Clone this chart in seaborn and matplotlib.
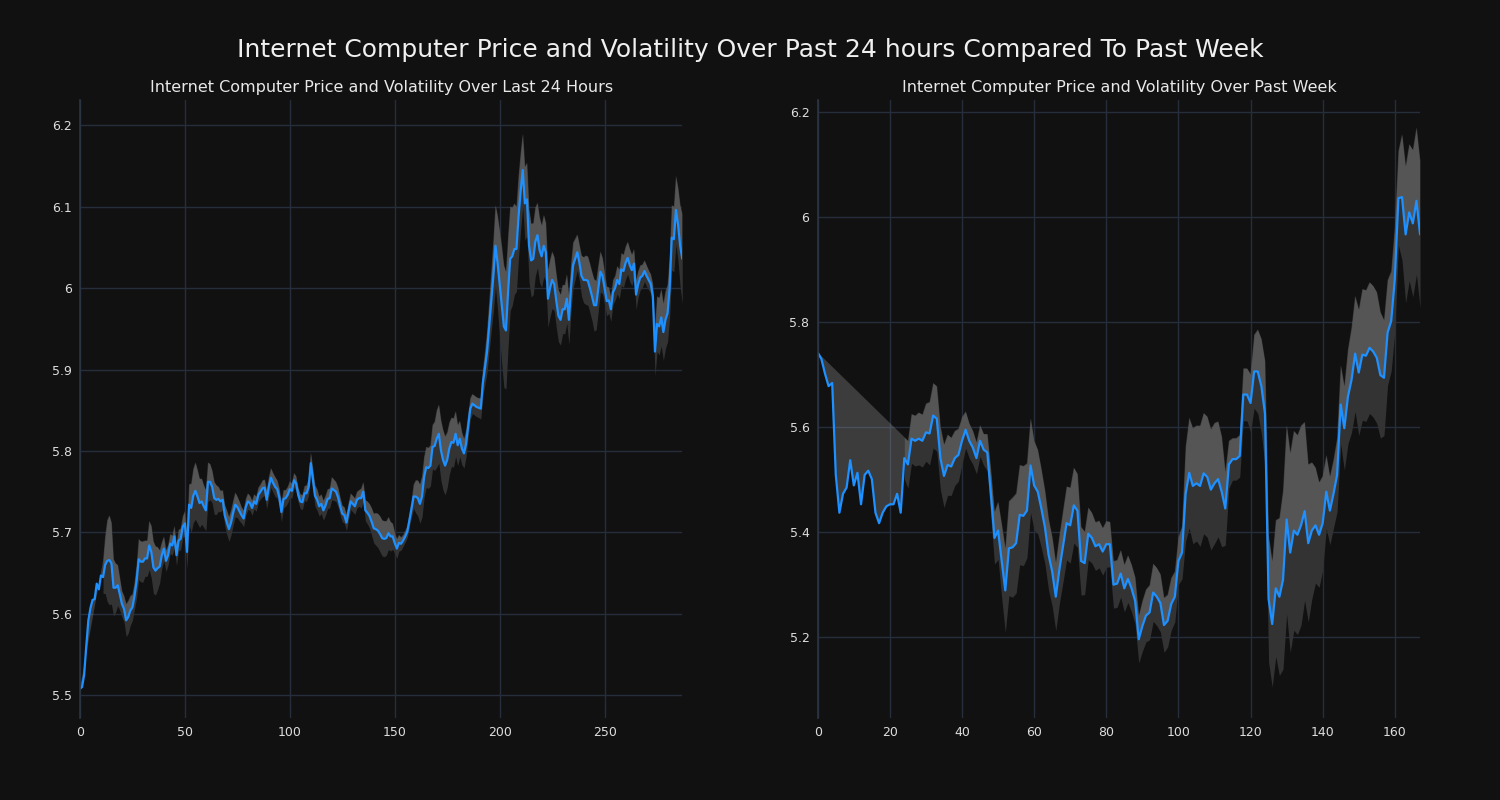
import numpy as np
import matplotlib
matplotlib.use('Agg')
import matplotlib.pyplot as plt
from matplotlib.ticker import FuncFormatter
import seaborn as sns

# price over the last 24 hours (5 minute steps) and its rolling volatility
day_price = [
    5.508, 5.51, 5.525, 5.56, 5.592, 5.607, 5.617, 5.618, 5.637, 5.63,
    5.647, 5.645, 5.66, 5.665, 5.666, 5.662, 5.632, 5.632, 5.635, 5.624,
    5.612, 5.606, 5.592, 5.596, 5.604, 5.608, 5.622, 5.64, 5.667, 5.664,
    5.664, 5.668, 5.668, 5.684, 5.676, 5.657, 5.653, 5.656, 5.658, 5.672,
    5.68, 5.665, 5.672, 5.686, 5.684, 5.695, 5.672, 5.69, 5.692, 5.707,
    5.711, 5.676, 5.734, 5.73, 5.745, 5.751, 5.744, 5.736, 5.738, 5.732,
    5.727, 5.762, 5.762, 5.756, 5.742, 5.74, 5.741, 5.738, 5.74, 5.721,
    5.712, 5.704, 5.712, 5.724, 5.734, 5.731, 5.726, 5.721, 5.717, 5.731,
    5.738, 5.736, 5.73, 5.738, 5.735, 5.746, 5.75, 5.754, 5.755, 5.74,
    5.756, 5.767, 5.761, 5.756, 5.753, 5.743, 5.725, 5.741, 5.742, 5.746,
    5.753, 5.751, 5.764, 5.76, 5.746, 5.738, 5.737, 5.748, 5.748, 5.756,
    5.785, 5.765, 5.745, 5.74, 5.732, 5.735, 5.727, 5.733, 5.741, 5.742,
    5.754, 5.752, 5.75, 5.743, 5.732, 5.723, 5.721, 5.712, 5.726, 5.738,
    5.735, 5.732, 5.74, 5.742, 5.742, 5.75, 5.727, 5.724, 5.72, 5.713,
    5.705, 5.704, 5.702, 5.698, 5.693, 5.692, 5.693, 5.699, 5.695, 5.695,
    5.687, 5.68, 5.687, 5.686, 5.69, 5.695, 5.701, 5.715, 5.729, 5.744,
    5.744, 5.742, 5.735, 5.744, 5.768, 5.78, 5.779, 5.782, 5.805, 5.806,
    5.815, 5.821, 5.801, 5.789, 5.782, 5.789, 5.803, 5.811, 5.81, 5.821,
    5.807, 5.815, 5.803, 5.797, 5.809, 5.831, 5.852, 5.858, 5.856, 5.854,
    5.853, 5.852, 5.884, 5.902, 5.922, 5.953, 5.984, 6.015, 6.052, 6.031,
    6.005, 5.979, 5.953, 5.948, 5.995, 6.036, 6.039, 6.048, 6.048, 6.088,
    6.119, 6.145, 6.104, 6.109, 6.052, 6.034, 6.036, 6.057, 6.065, 6.047,
    6.039, 6.052, 6.044, 5.987, 6.0, 6.01, 6.005, 5.984, 5.966, 5.961,
    5.974, 5.974, 5.987, 5.961, 6.0, 6.028, 6.036, 6.044, 6.031, 6.015,
    6.01, 6.01, 6.009, 6.0, 5.99, 5.979, 5.979, 6.0, 6.02, 6.015,
    6.0, 5.984, 5.985, 5.974, 5.995, 6.0, 6.01, 6.005, 6.023, 6.021,
    6.031, 6.037, 6.028, 6.022, 6.03, 5.992, 6.005, 6.013, 6.015, 6.021,
    6.015, 6.01, 6.005, 5.99, 5.922, 5.956, 5.953, 5.964, 5.946, 5.961,
    5.969, 6.0, 6.062, 6.06, 6.096, 6.078, 6.052, 6.036,
]
day_vol = [np.nan] * 11 + [
    0.02, 0.035, 0.05, 0.055, 0.05, 0.035, 0.03, 0.025, 0.02,
    0.016, 0.016, 0.02, 0.02, 0.018, 0.016, 0.016, 0.02, 0.025, 0.025,
    0.025, 0.022, 0.022, 0.03, 0.032, 0.032, 0.03, 0.026, 0.02, 0.016,
    0.015, 0.013, 0.012, 0.012, 0.012, 0.013, 0.013, 0.013, 0.013, 0.013,
    0.015, 0.02, 0.025, 0.03, 0.033, 0.035, 0.033, 0.03, 0.028, 0.026,
    0.025, 0.024, 0.022, 0.02, 0.02, 0.018, 0.015, 0.013, 0.012, 0.013,
    0.015, 0.015, 0.015, 0.015, 0.015, 0.013, 0.012, 0.01, 0.01, 0.01,
    0.01, 0.009, 0.009, 0.009, 0.009, 0.009, 0.009, 0.01, 0.01, 0.011,
    0.012, 0.012, 0.012, 0.012, 0.011, 0.011, 0.012, 0.011, 0.01, 0.01,
    0.01, 0.009, 0.009, 0.009, 0.009, 0.009, 0.009, 0.009, 0.01, 0.01,
    0.013, 0.013, 0.013, 0.013, 0.012, 0.012, 0.012, 0.012, 0.012, 0.012,
    0.014, 0.013, 0.012, 0.012, 0.011, 0.01, 0.01, 0.01, 0.01, 0.01,
    0.01, 0.01, 0.01, 0.01, 0.012, 0.012, 0.013, 0.014, 0.015, 0.017,
    0.018, 0.02, 0.021, 0.022, 0.022, 0.022, 0.021, 0.02, 0.018, 0.016,
    0.013, 0.012, 0.01, 0.008, 0.007, 0.007, 0.007, 0.008, 0.01, 0.015,
    0.02, 0.022, 0.024, 0.025, 0.025, 0.025, 0.025, 0.025, 0.027, 0.03,
    0.035, 0.036, 0.037, 0.037, 0.036, 0.034, 0.032, 0.03, 0.03, 0.028,
    0.025, 0.022, 0.02, 0.018, 0.016, 0.014, 0.013, 0.012, 0.012, 0.012,
    0.012, 0.013, 0.016, 0.02, 0.025, 0.03, 0.036, 0.044, 0.05, 0.058,
    0.066, 0.072, 0.075, 0.072, 0.068, 0.064, 0.06, 0.056, 0.052, 0.05,
    0.047, 0.045, 0.045, 0.045, 0.045, 0.045, 0.044, 0.042, 0.04, 0.04,
    0.038, 0.038, 0.036, 0.035, 0.035, 0.035, 0.033, 0.033, 0.032, 0.031,
    0.03, 0.03, 0.03, 0.03, 0.029, 0.028, 0.025, 0.022, 0.022, 0.025,
    0.028, 0.03, 0.03, 0.03, 0.03, 0.032, 0.03, 0.028, 0.025, 0.022,
    0.02, 0.018, 0.016, 0.015, 0.015, 0.015, 0.017, 0.018, 0.02, 0.02,
    0.02, 0.02, 0.02, 0.019, 0.018, 0.018, 0.016, 0.015, 0.014, 0.013,
    0.013, 0.012, 0.012, 0.015, 0.03, 0.034, 0.035, 0.035, 0.035, 0.035,
    0.035, 0.036, 0.04, 0.04, 0.042, 0.045, 0.05, 0.055,
]

# price over the past week (hourly) and its rolling volatility
week_price = [
    5.742, 5.73, 5.702, 5.678, 5.684, 5.509, 5.437, 5.473, 5.485, 5.537,
    5.489, 5.513, 5.453, 5.509, 5.517, 5.501, 5.437, 5.417, 5.437, 5.449,
    5.453, 5.453, 5.473, 5.437, 5.541, 5.529, 5.578, 5.574, 5.578, 5.574,
    5.59, 5.588, 5.622, 5.616, 5.541, 5.507, 5.528, 5.525, 5.541, 5.547,
    5.574, 5.595, 5.574, 5.561, 5.541, 5.574, 5.557, 5.552, 5.473, 5.389,
    5.403, 5.345, 5.289, 5.369, 5.371, 5.379, 5.433, 5.431, 5.441, 5.527,
    5.489, 5.477, 5.445, 5.409, 5.357, 5.325, 5.277, 5.329, 5.373, 5.417,
    5.413, 5.451, 5.441, 5.345, 5.341, 5.397, 5.389, 5.373, 5.377, 5.363,
    5.377, 5.377, 5.30, 5.302, 5.321, 5.293, 5.311, 5.293, 5.269, 5.196,
    5.221, 5.241, 5.247, 5.285, 5.277, 5.265, 5.223, 5.231, 5.263, 5.277,
    5.345, 5.361, 5.473, 5.513, 5.488, 5.493, 5.488, 5.512, 5.505, 5.481,
    5.493, 5.501, 5.477, 5.445, 5.529, 5.539, 5.539, 5.545, 5.662, 5.662,
    5.646, 5.706, 5.706, 5.678, 5.626, 5.273, 5.225, 5.293, 5.277, 5.309,
    5.424, 5.361, 5.403, 5.395, 5.413, 5.44, 5.379, 5.403, 5.413, 5.395,
    5.417, 5.477, 5.441, 5.473, 5.509, 5.643, 5.598, 5.658, 5.69, 5.74,
    5.704, 5.738, 5.736, 5.751, 5.744, 5.732, 5.699, 5.694, 5.78, 5.802,
    5.882, 6.036, 6.038, 5.967, 6.009, 5.988, 6.031, 5.967,
]
week_vol = [np.nan] * 24 + [
    0.04, 0.045, 0.047, 0.048, 0.05, 0.05, 0.055, 0.06, 0.062, 0.062,
    0.06, 0.06, 0.058, 0.055, 0.052, 0.05, 0.045, 0.035, 0.033, 0.032,
    0.03, 0.03, 0.03, 0.035, 0.045, 0.05, 0.055, 0.07, 0.08, 0.09,
    0.095, 0.095, 0.095, 0.095, 0.09, 0.09, 0.085, 0.08, 0.075, 0.07,
    0.068, 0.066, 0.065, 0.065, 0.068, 0.07, 0.072, 0.072, 0.07, 0.065,
    0.06, 0.05, 0.048, 0.046, 0.045, 0.045, 0.044, 0.043, 0.045, 0.045,
    0.045, 0.045, 0.045, 0.045, 0.045, 0.045, 0.048, 0.05, 0.052, 0.055,
    0.055, 0.055, 0.052, 0.05, 0.05, 0.048, 0.045, 0.05, 0.09, 0.105,
    0.11, 0.11, 0.115, 0.115, 0.115, 0.115, 0.115, 0.11, 0.105, 0.07,
    0.045, 0.04, 0.04, 0.04, 0.05, 0.05, 0.055, 0.07, 0.08, 0.09,
    0.1, 0.12, 0.12, 0.13, 0.15, 0.17, 0.18, 0.19, 0.19, 0.19,
    0.19, 0.17, 0.15, 0.13, 0.11, 0.1, 0.09, 0.07, 0.065, 0.065,
    0.07, 0.075, 0.08, 0.09, 0.1, 0.11, 0.12, 0.125, 0.125, 0.125,
    0.125, 0.125, 0.12, 0.11, 0.1, 0.095, 0.1, 0.09, 0.12, 0.13,
    0.13, 0.14, 0.14, 0.14,
]

day_yticks = [5.5, 5.6, 5.7, 5.8, 5.9, 6.0, 6.1, 6.2]
day_xticks = [0, 50, 100, 150, 200, 250]
week_yticks = [5.2, 5.4, 5.6, 5.8, 6.0, 6.2]
week_xticks = [0, 20, 40, 60, 80, 100, 120, 140, 160]

bg = '#111111'
sns.set_theme(style='dark')
plt.rcParams['font.family'] = ['DejaVu Sans']
plt.rcParams['figure.facecolor'] = bg
plt.rcParams['axes.facecolor'] = bg


def draw(ax, price, vol, title, xlim, ylim, xticks, yticks):
    price = np.asarray(price, dtype=float)
    vol = np.asarray(vol, dtype=float)
    x = np.arange(len(price))
    upper = price + vol
    lower = price - vol

    # full band (dark), then the upper half lighter
    ax.fill_between(x, lower, upper, color='#333333', linewidth=0)
    ok = ~np.isnan(upper)
    ax.fill(np.concatenate([x[ok], x[::-1]]),
            np.concatenate([upper[ok], price[::-1]]),
            color='#b3b3b3', alpha=0.265, linewidth=0)

    sns.lineplot(x=x, y=price, ax=ax, color='#1e90ff', linewidth=1.6)

    ax.set_xlim(*xlim)
    ax.set_ylim(*ylim)
    ax.set_xticks(xticks)
    ax.set_yticks(yticks)
    ax.yaxis.set_major_formatter(FuncFormatter(lambda v, p: f'{v:g}'))
    ax.set_xlabel('')
    ax.set_ylabel('')
    ax.set_title(title, color='#e8e8e8', fontsize=11.5)
    ax.grid(True, color='#252e3a', linewidth=1)
    ax.set_axisbelow(True)
    ax.tick_params(colors='#dddddd', labelsize=9, length=0, pad=6)
    for side in ['top', 'right', 'bottom']:
        ax.spines[side].set_visible(False)
    ax.spines['left'].set_color('#2b3544')
    ax.spines['left'].set_linewidth(1.2)


fig, axes = plt.subplots(1, 2, figsize=(15, 8), dpi=100)
fig.subplots_adjust(left=0.0533, right=0.9467, bottom=0.1025, top=0.875, wspace=0.225)

draw(axes[0], day_price, day_vol,
     'Internet Computer Price and Volatility Over Last 24 Hours',
     (0, len(day_price) - 1), (5.472, 6.231), day_xticks, day_yticks)
draw(axes[1], week_price, week_vol,
     'Internet Computer Price and Volatility Over Past Week',
     (0, len(week_price) - 1), (5.046, 6.223), week_xticks, week_yticks)

fig.suptitle('Internet Computer Price and Volatility Over Past 24 hours Compared To Past Week',
             color='#f0f0f0', fontsize=18, y=0.9375, va='center')

fig.savefig('out.png', dpi=100, facecolor=bg)
